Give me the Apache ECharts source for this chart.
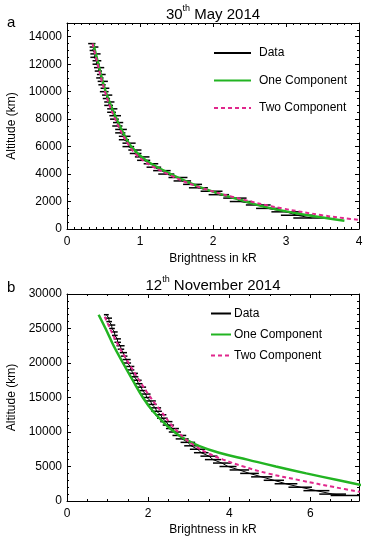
<!DOCTYPE html>
<html>
<head>
<meta charset="utf-8">
<script src="https://cdn.jsdelivr.net/npm/echarts@6/dist/echarts.min.js"></script>
<style>
html,body{margin:0;padding:0;background:#fff;}
#chart{width:366px;height:537px;}
</style>
</head>
<body>
<div id="chart"></div>
<script>
// ---------- Panel a : 30th May 2014 ----------
const altA = [13500,13250,13000,12750,12500,12250,12000,11750,11500,11250,11000,10750,10500,10250,10000,9750,9500,9250,9000,8750,8500,8250,8000,7750,7500,7250,7000,6750,6500,6250,6000,5750,5500,5250,5000,4750,4500,4250,4000,3750,3500,3250,3000,2750,2500,2250,2000,1750,1500,1250,1000,800];
const brightA = [0.34,0.37,0.35,0.39,0.37,0.41,0.40,0.44,0.43,0.47,0.45,0.49,0.48,0.52,0.51,0.55,0.54,0.58,0.57,0.62,0.61,0.66,0.65,0.70,0.69,0.74,0.73,0.79,0.78,0.85,0.84,0.93,0.94,1.03,1.05,1.15,1.19,1.30,1.36,1.52,1.58,1.72,1.80,1.98,2.08,2.30,2.38,2.62,2.75,3.00,3.15,3.35];
const errA = [0.05,0.06,0.04,0.07,0.05,0.06,0.05,0.07,0.05,0.06,0.05,0.07,0.05,0.06,0.06,0.07,0.05,0.07,0.06,0.07,0.06,0.08,0.06,0.07,0.07,0.08,0.07,0.08,0.07,0.09,0.08,0.09,0.08,0.10,0.09,0.10,0.10,0.12,0.11,0.13,0.12,0.13,0.13,0.15,0.14,0.16,0.15,0.17,0.16,0.20,0.22,0.25];
const oneAltA = [13500,12000,10000,8000,7000,6000,5000,4000,3000,2000,1500,1000,600];
const oneA = [0.36,0.43,0.53,0.68,0.77,0.88,1.08,1.42,1.85,2.45,2.80,3.30,3.80];
const twoAltA = [13500,12000,10000,8000,6000,5000,4000,3000,2000,1500,1000,800,600];
const twoA = [0.35,0.42,0.52,0.66,0.86,1.04,1.38,1.84,2.52,2.95,3.50,3.78,4.10];
const xTicksA = [0,1,2,3,4];
const yTicksA = [0,2000,4000,6000,8000,10000,12000,14000];

// ---------- Panel b : 12th November 2014 ----------
const altB = [27000,26500,26000,25500,25000,24500,24000,23500,23000,22500,22000,21500,21000,20500,20000,19500,19000,18500,18000,17500,17000,16500,16000,15500,15000,14500,14000,13500,13000,12500,12000,11500,11000,10500,10000,9500,9000,8500,8000,7500,7000,6500,6000,5500,5000,4500,4000,3500,3000,2500,2000,1500,1000,800];
const brightB = [0.97,1.03,1.04,1.10,1.11,1.17,1.18,1.24,1.25,1.32,1.33,1.39,1.41,1.47,1.49,1.56,1.57,1.64,1.66,1.73,1.76,1.83,1.86,1.94,1.97,2.06,2.09,2.18,2.21,2.31,2.35,2.45,2.50,2.60,2.66,2.77,2.84,2.98,3.06,3.22,3.31,3.50,3.60,3.82,3.97,4.25,4.50,4.80,5.10,5.40,5.75,6.15,6.55,6.85];
const errB = [0.06,0.08,0.07,0.09,0.07,0.08,0.07,0.09,0.08,0.10,0.08,0.09,0.08,0.10,0.09,0.10,0.09,0.11,0.10,0.11,0.10,0.12,0.11,0.12,0.11,0.13,0.12,0.14,0.13,0.14,0.13,0.15,0.14,0.16,0.15,0.17,0.16,0.18,0.17,0.19,0.18,0.21,0.20,0.22,0.21,0.24,0.23,0.26,0.25,0.28,0.29,0.32,0.33,0.35];
const oneAltB = [27000,25000,22500,20000,17500,15000,13000,11000,10000,9000,8000,7000,6000,5000,4000,3000,2000];
const oneB = [0.78,0.95,1.15,1.38,1.62,1.87,2.12,2.45,2.65,2.90,3.25,3.75,4.45,5.15,5.90,6.70,7.50];
const twoAltB = [26700,25000,22500,20000,17500,15000,13000,11000,10000,9000,8000,7000,6000,5000,4000,3000,2000,1200];
const twoB = [0.93,1.06,1.27,1.52,1.78,2.06,2.32,2.58,2.74,2.92,3.15,3.45,3.85,4.35,4.95,5.75,6.60,7.35];
const xTicksB = [0,2,4,6];
const yTicksB = [0,5000,10000,15000,20000,25000,30000];

const titles = [["30","th"," May 2014"],["12","th"," November 2014"]];
const panelLabels = ["a","b"];
const seriesNames = ["Data","One Component","Two Component"];

// ---------- styling / layout ----------
const FONT = "'Liberation Sans', Arial, Helvetica, sans-serif";
const GREEN = "#22b422";
const MAG = "#e0278c";
const grids = [
  {left:67, top:23, width:292, height:206, containLabel:false, outerBoundsMode:'none'},
  {left:67, top:294, width:292, height:207, containLabel:false, outerBoundsMode:'none'}
];
const axisCfg = [
  {xMin:0, xMax:4, xMajor:xTicksA[1]-xTicksA[0], xMinor:0.1, yMin:0, yMax:15000, yMajor:yTicksA[1]-yTicksA[0], yMinor:500, xNameGap:24, yNameGap:48},
  {xMin:0, xMax:7.2, xMajor:xTicksB[1]-xTicksB[0], xMinor:0.5, yMin:0, yMax:30000, yMajor:yTicksB[1]-yTicksB[0], yMinor:1000, xNameGap:23, yNameGap:48}
];

const xAxis = [], yAxis = [];
axisCfg.forEach((c, g) => {
  const common = {gridIndex:g, type:'value', splitLine:{show:false}};
  const tick = len => ({show:true, inside:true, length:len, lineStyle:{color:'#000', width:1}});
  const labelStyle = {color:'#000', fontSize:12, fontFamily:FONT, formatter: v => String(v)};
  ['bottom','top'].forEach(pos => {
    xAxis.push(Object.assign({}, common, {
      position:pos, min:c.xMin, max:c.xMax, interval:c.xMajor,
      axisLine:{show:true, onZero:false, lineStyle:{color:'#000', width:1}},
      axisTick:tick(4),
      axisLabel: pos==='bottom' ? Object.assign({show:true, margin:7, showMaxLabel: c.xMax % c.xMajor === 0}, labelStyle) : {show:false},
      name: pos==='bottom' ? 'Brightness in kR' : '',
      nameLocation:'middle', nameGap:c.xNameGap,
      nameTextStyle:{color:'#000', fontSize:12, fontFamily:FONT}
    }));
    xAxis.push(Object.assign({}, common, {
      position:pos, min:c.xMin, max:c.xMax, interval:c.xMinor,
      axisLine:{show:false, onZero:false}, axisTick:tick(2), axisLabel:{show:false}
    }));
  });
  ['left','right'].forEach(pos => {
    yAxis.push(Object.assign({}, common, {
      position:pos, min:c.yMin, max:c.yMax, interval:c.yMajor,
      axisLine:{show:true, onZero:false, lineStyle:{color:'#000', width:1}},
      axisTick:tick(4),
      axisLabel: pos==='left' ? Object.assign({show:true, margin:5, showMaxLabel: c.yMax % c.yMajor === 0}, labelStyle) : {show:false},
      name: pos==='left' ? 'Altitude (km)' : '',
      nameLocation:'middle', nameGap:c.yNameGap,
      nameTextStyle:{color:'#000', fontSize:12, fontFamily:FONT}
    }));
    yAxis.push(Object.assign({}, common, {
      position:pos, min:c.yMin, max:c.yMax, interval:c.yMinor,
      axisLine:{show:false, onZero:false}, axisTick:tick(2), axisLabel:{show:false}
    }));
  });
});

function pairs(xs, ys){ return ys.map((y,i)=>[xs[i], y]); }
function errRender(params, api){
  const b = api.value(0), h = api.value(1), e = api.value(2);
  const p1 = api.coord([b - e, h]);
  const p2 = api.coord([b + e, h]);
  return {type:'line', shape:{x1:p1[0], y1:p1[1], x2:p2[0], y2:p2[1]},
          style:{stroke:'#000', lineWidth:1.5}};
}

const panels = [
  {alt:altA, b:brightA, err:errA, oneAlt:oneAltA, one:oneA, twoAlt:twoAltA, two:twoA},
  {alt:altB, b:brightB, err:errB, oneAlt:oneAltB, one:oneB, twoAlt:twoAltB, two:twoB}
];
const series = [];
panels.forEach((p, g) => {
  const xi = g*4, yi = g*4;
  series.push({type:'line', name:seriesNames[0], xAxisIndex:xi, yAxisIndex:yi,
    data:pairs(p.b, p.alt), symbol:'none', showSymbol:false, lineStyle:{color:'#000', width:1},
    itemStyle:{color:'#000'}, z:2, clip:true});
  series.push({type:'custom', name:seriesNames[0], xAxisIndex:xi, yAxisIndex:yi,
    data:p.alt.map((h,i)=>[p.b[i], h, p.err[i]]), encode:{x:0, y:1},
    renderItem:errRender, z:2, clip:true});
  series.push({type:'line', name:seriesNames[1], xAxisIndex:xi, yAxisIndex:yi,
    data:pairs(p.one, p.oneAlt), symbol:'none', showSymbol:false, smooth:0.4,
    lineStyle:{color:GREEN, width:2.5}, itemStyle:{color:GREEN}, z:3, clip:true});
  series.push({type:'line', name:seriesNames[2], xAxisIndex:xi, yAxisIndex:yi,
    data:pairs(p.two, p.twoAlt), symbol:'none', showSymbol:false, smooth:0.4,
    lineStyle:{color:MAG, width:2, type:[4,3]}, itemStyle:{color:MAG}, z:4, clip:true});
});

const legendText = {color:'#000', fontSize:12, fontFamily:FONT};
const legend = [
  {left:213, top:47, padding:0, orient:'vertical', itemWidth:37, itemHeight:14, itemGap:15.5,
   itemStyle:{opacity:0}, selectedMode:false, data:seriesNames, textStyle:Object.assign({padding:[0,0,0,3]}, legendText)},
  {left:210, top:307.5, padding:0, orient:'vertical', itemWidth:20, itemHeight:14, itemGap:9,
   itemStyle:{opacity:0}, selectedMode:false, data:seriesNames, textStyle:Object.assign({padding:[0,0,0,-2]}, legendText)}
];

const titleY = [13, 284];
const labelY = [23, 288];
const graphic = [];
titles.forEach((t, g) => {
  graphic.push({type:'text', x:213, y:titleY[g], style:{
    text:'{n|' + t[0] + '}{s|' + t[1] + '}{n|' + t[2] + '}',
    align:'center', verticalAlign:'middle', fill:'#000',
    rich:{ n:{fontSize:15, fontFamily:FONT, fill:'#000', lineHeight:18, verticalAlign:'bottom'},
           s:{fontSize:9, fontFamily:FONT, fill:'#000', lineHeight:18, verticalAlign:'top'} }
  }});
  graphic.push({type:'text', x:7, y:labelY[g], style:{
    text:panelLabels[g], fontSize:15, fontFamily:FONT, fill:'#000', align:'left', verticalAlign:'middle'
  }});
});

const chart = echarts.init(document.getElementById('chart'), null, {renderer:'canvas'});
chart.setOption({
  animation:false,
  backgroundColor:'#fff',
  grid:grids,
  xAxis:xAxis,
  yAxis:yAxis,
  legend:legend,
  series:series,
  graphic:graphic
});
</script>
</body>
</html>
